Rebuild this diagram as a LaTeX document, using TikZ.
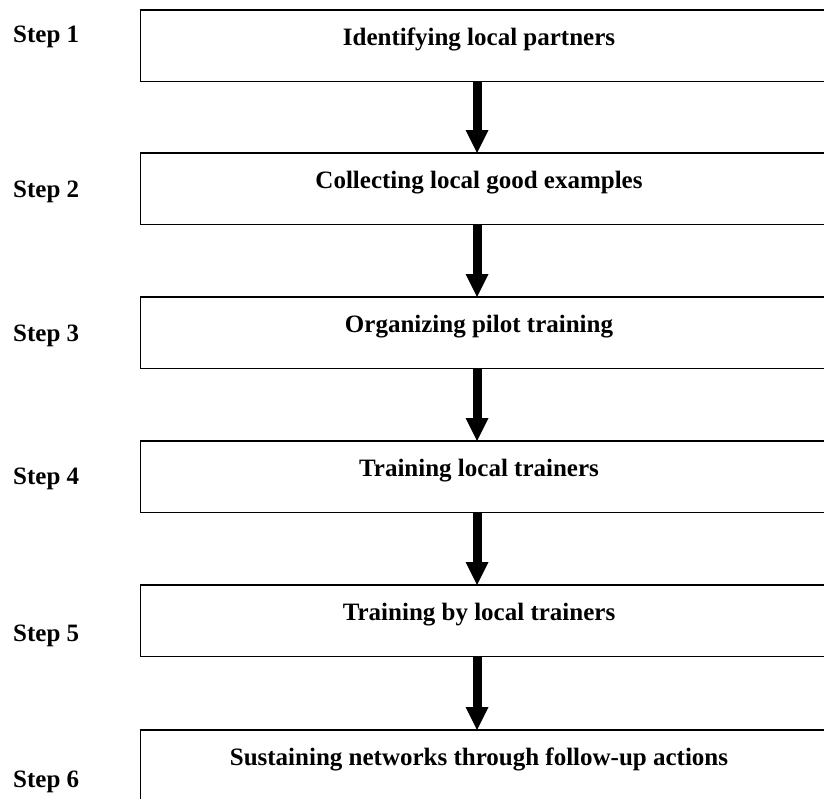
\documentclass[tikz,border=0pt]{standalone}
\usepackage{fontspec}
\setmainfont{Liberation Serif}
\usetikzlibrary{arrows.meta}
\tikzset{
  stepbox/.style={draw, line width=1.7pt, rectangle, minimum height=71.5pt, minimum width=720pt, anchor=north west, inner sep=0pt, outer sep=0pt},
  boxtext/.style={font=\fontsize{25}{30}\selectfont\bfseries, anchor=base, inner sep=0pt},
  steplabel/.style={font=\fontsize{25}{30}\selectfont\bfseries, anchor=base west, inner sep=0pt},
  flow/.style={line width=9pt, -{Triangle[width=23pt 0 0,length=23pt 0 0,line width=0pt 0 0]}}
}
\begin{document}
\begin{tikzpicture}[x=1pt,y=-1pt]
\useasboundingbox (0,0) rectangle (824,798);
\clip (0,0) rectangle (824,798);
\coordinate (ax) at (477,0);
% boxes
\node[stepbox] (b1) at (140.5,10) {};
\node[stepbox] (b2) at (140.5,153) {};
\node[stepbox] (b3) at (140.5,297) {};
\node[stepbox] (b4) at (140.5,441) {};
\node[stepbox] (b5) at (140.5,585) {};
\node[stepbox, minimum height=120pt] (b6) at (140.5,730) {};
% box texts
\node[boxtext] (t1) at (479,45) {Identifying local partners};
\node[boxtext] (t2) at (479,188) {Collecting local good examples};
\node[boxtext] (t3) at (479,332) {Organizing pilot training};
\node[boxtext] (t4) at (479,476) {Training local trainers};
\node[boxtext] (t5) at (479,620) {Training by local trainers};
\node[boxtext] (t6) at (479,765) {Sustaining networks through follow-up actions};
% step labels
\node[steplabel] (s1) at (13,42) {Step 1};
\node[steplabel] (s2) at (13,197) {Step 2};
\node[steplabel] (s3) at (13,341) {Step 3};
\node[steplabel] (s4) at (13,484) {Step 4};
\node[steplabel] (s5) at (13,641) {Step 5};
\node[steplabel] (s6) at (13,787) {Step 6};
% arrows
\draw[flow] (b1.south -| ax) -- (b2.north -| ax);
\draw[flow] (b2.south -| ax) -- (b3.north -| ax);
\draw[flow] (b3.south -| ax) -- (b4.north -| ax);
\draw[flow] (b4.south -| ax) -- (b5.north -| ax);
\draw[flow] (b5.south -| ax) -- (b6.north -| ax);
\end{tikzpicture}
\end{document}
